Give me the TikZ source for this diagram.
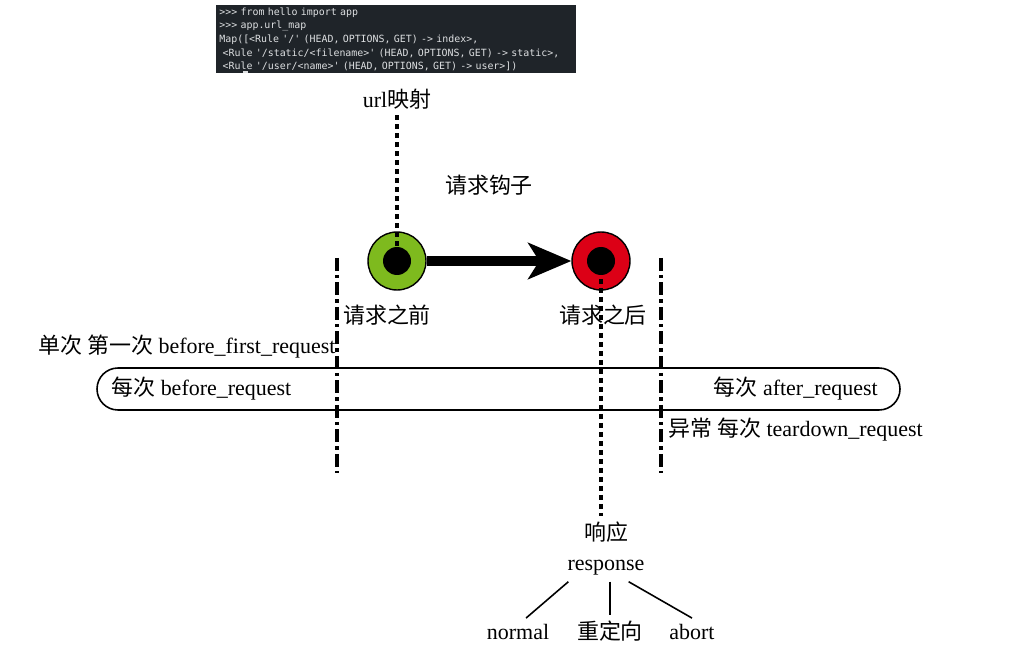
\documentclass[tikz,border=0pt]{standalone}
\usepackage{fontspec}
\setmainfont{Liberation Serif}
\setmonofont{DejaVu Sans Mono}
\newfontfamily\cjk{Noto Sans CJK SC}
\usetikzlibrary{arrows.meta}
\definecolor{hookgreen}{RGB}{126,186,30}
\definecolor{hookred}{RGB}{220,0,22}
\definecolor{codebg}{RGB}{31,36,41}
\definecolor{codefg}{RGB}{222,224,226}
\newcommand{\zh}[1]{{\cjk #1}}

\begin{document}
\begin{tikzpicture}[x=0.02cm, y=-0.02cm,
  every node/.style={font=\fontsize{12.5}{15}\selectfont},
  hookpt/.style={circle, draw=black, line width=0.8pt, minimum size=1.16cm, inner sep=0pt},
  flow/.style={line width=0.2cm, -{Stealth[length=0.86cm, width=0.72cm, inset=0.22cm]}},
  dotline/.style={line width=2.2pt, dash pattern=on 0.1cm off 0.08cm},
  divider/.style={line width=2.2pt, dash pattern=on 0.26cm off 0.08cm on 0.07cm off 0.08cm},
  leaf/.style={line width=0.9pt}]
  \useasboundingbox (0,0) rectangle (1017,651);
  \node[anchor=north west, fill=codebg, text=codefg, align=left, minimum width=7.2cm, minimum height=1.36cm,
        inner xsep=0.06cm, inner ysep=0.05cm, text width=7.08cm,
        font=\ttfamily\fontsize{5.65}{7.7}\selectfont] (urlcode) at (216,5)
    {>>> from hello import app\\
     >>> app.url\_map\\
     Map([<Rule '/' (HEAD, OPTIONS, GET) -> index>,\\
     \ <Rule '/static/<filename>' (HEAD, OPTIONS, GET) -> static>,\\
     \ <Rule '/user/<name>' (HEAD, OPTIONS, GET) -> user>])};
  \fill[codefg] (243,71) rectangle (248,73);
  \node (urlmap) at (397,99) {url\zh{映射}};
  \node (hook) at (489,185) {\zh{请求钩子}};
  \node[hookpt, fill=hookgreen] (before) at (397,261) {};
  \node[hookpt, fill=hookred] (after) at (601,261) {};
  \fill (before.center) circle (0.28cm);
  \fill (after.center) circle (0.28cm);
  \draw[flow] (before) -- (after);
  \draw[dotline] (urlmap.south) -- (before.center);
  \node (beforelbl) at (387,315) {\zh{请求之前}};
  \node (afterlbl) at (603,315) {\zh{请求之后}};
  \node[anchor=west, inner sep=0pt] (firstreq) at (38,347) {\zh{单次 第一次} before\_first\_request};
  \draw[line width=0.9pt, rounded corners=0.42cm] (97,368) rectangle (900,410);
  \node[anchor=west, inner sep=0pt] (beforereq) at (111,389) {\zh{每次} before\_request};
  \node[anchor=east, inner sep=0pt] (afterreq) at (878,389) {\zh{每次} after\_request};
  \node[anchor=west, inner sep=0pt] (teardown) at (668,430) {\zh{异常 每次} teardown\_request};
  \draw[divider] (337,258) -- (337,473);
  \draw[divider] (661,258) -- (661,473);
  \node (resp) at (606,532) {\zh{响应}};
  \node (response) at (606,568) {response};
  \draw[dotline] (after.center) -- (after.center |- resp.north);
  \node (normal) at (518,632) {normal};
  \node (redirect) at (610,631) {\zh{重定向}};
  \node (abort) at (692,632) {abort};
  \draw[leaf] ([xshift=0.14cm]response.south west) -- (normal.60);
  \draw[leaf] (redirect.north |- response.south) -- (redirect.north);
  \draw[leaf] ([xshift=-0.44cm]response.south east) -- (abort.north);
\end{tikzpicture}
\end{document}
